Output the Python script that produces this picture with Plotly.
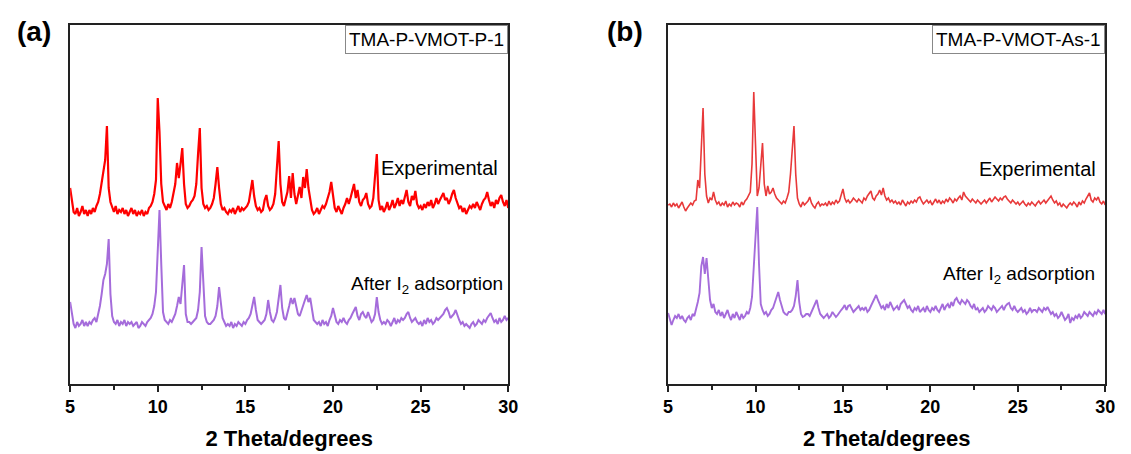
import numpy as np
import plotly.graph_objects as go

# 2-theta grid, 5.0 .. 30.0 step 0.1
two_theta = [round(5 + 0.1 * i, 1) for i in range(251)]

exp_a = [
    196,182,172,170,176,168,172,178,170,174,
    168,174,170,176,172,178,182,190,200,214,
    224,258,196,182,176,172,178,170,174,172,
    176,170,174,168,172,176,170,174,168,172,
    170,174,168,172,170,176,178,182,190,204,
    286,252,200,182,178,174,180,176,182,190,
    200,221,206,220,236,200,180,176,178,182,
    184,188,200,230,256,196,180,176,178,174,
    176,180,186,200,217,196,180,174,176,172,
    170,174,172,176,170,174,178,172,176,174,
    176,178,182,196,204,188,178,174,176,172,
    174,184,189,178,174,176,180,190,215,243,
    200,182,178,184,192,208,186,211,190,180,
    188,197,186,207,196,215,196,182,174,170,
    172,176,170,174,178,176,180,186,192,202,
    188,176,172,178,174,170,176,180,186,180,
    186,192,200,186,194,182,178,184,186,191,
    180,176,178,186,210,230,184,174,178,172,
    176,182,174,178,184,176,180,186,178,184,
    180,186,194,182,178,188,184,193,180,176,
    178,174,180,176,182,178,184,176,180,186,
    180,184,188,191,184,186,180,184,190,194,
    186,180,176,178,172,176,170,174,178,176,
    180,176,182,178,174,180,184,186,192,184,
    178,182,176,184,180,186,189,182,178,184,
    176,
]

after_a = [
    82,70,60,56,62,58,60,64,58,62,
    58,62,60,64,66,62,70,78,90,104,
    110,120,145,90,68,62,60,64,58,62,
    60,64,58,62,60,62,58,60,62,56,
    58,62,60,58,62,64,66,70,78,92,
    130,174,120,72,64,62,60,64,62,66,
    70,78,87,80,100,119,70,62,62,60,
    62,64,66,74,92,137,100,68,62,60,
    60,62,64,68,78,97,80,66,62,58,
    60,58,62,56,60,58,62,60,58,62,
    60,64,66,70,78,87,74,64,62,60,
    62,64,70,84,72,64,62,66,72,88,
    99,76,66,64,70,78,86,80,86,76,
    70,68,74,80,84,89,82,86,72,64,
    62,60,62,58,64,60,62,58,64,68,
    76,68,62,60,64,62,66,62,60,64,
    66,70,74,77,68,64,70,72,68,66,
    72,66,62,64,70,87,72,64,60,62,
    60,64,62,58,62,66,60,64,62,66,
    64,66,70,72,66,62,64,66,62,60,
    62,58,64,60,66,62,64,60,62,66,
    64,66,68,70,74,76,72,66,68,70,
    74,68,64,60,62,58,60,58,56,60,
    62,58,60,64,62,60,64,62,66,68,
    71,66,62,64,60,66,62,64,68,64,
    66,
]

exp_b = [
    179,180,177,181,178,180,176,179,182,177,
    173,176,178,181,179,183,184,204,196,230,
    276,210,188,181,186,184,192,184,180,182,
    178,181,179,183,177,180,178,182,179,181,
    180,177,182,179,183,185,188,192,220,292,
    240,188,196,220,241,200,188,198,190,192,
    196,190,186,184,182,180,183,181,186,192,
    210,240,258,210,186,180,177,182,179,181,
    183,187,181,178,176,180,182,178,180,179,
    181,178,183,179,182,180,184,181,183,189,
    195,186,182,184,181,183,186,184,182,185,
    183,181,186,184,188,190,193,186,184,188,
    190,194,189,196,188,184,186,182,184,181,
    183,180,182,179,184,181,178,182,180,183,
    181,184,182,186,187,183,180,182,184,181,
    183,179,182,185,181,184,180,183,181,185,
    182,186,184,181,185,183,186,188,184,192,
    188,186,184,182,185,183,181,184,182,180,
    182,184,181,183,186,182,184,187,185,183,
    186,184,187,188,185,183,181,184,182,180,
    182,179,181,183,180,178,181,179,182,180,
    178,181,183,180,182,184,181,183,186,188,
    184,181,183,179,181,177,180,178,176,179,
    181,179,182,180,177,182,179,183,181,185,
    188,191,184,182,186,184,187,182,180,183,
    179,
]

after_b = [
    71,66,59,64,68,66,70,65,68,64,
    62,66,68,64,70,68,74,82,91,118,
    127,110,126,100,84,76,80,72,70,74,
    68,72,66,70,74,68,64,70,66,72,
    68,64,70,66,68,72,70,76,87,120,
    150,177,120,80,74,70,72,68,70,74,
    76,82,88,92,84,78,72,70,69,72,
    72,74,78,88,104,82,70,67,68,70,
    70,68,72,76,80,84,76,70,68,66,
    68,70,66,68,72,70,67,69,72,74,
    76,79,74,78,79,76,72,74,76,78,
    74,76,74,77,72,74,78,82,86,89,
    84,80,76,78,74,80,76,82,78,74,
    76,78,74,80,82,84,80,76,78,74,
    72,76,74,78,72,74,76,72,78,74,
    72,76,74,78,74,72,76,80,74,78,
    80,76,82,78,84,86,82,80,84,82,
    80,84,82,78,76,80,74,76,72,74,
    76,72,74,78,76,74,78,76,72,74,
    76,78,74,78,80,81,76,74,78,74,
    72,74,76,72,74,70,72,76,72,74,
    74,72,76,74,72,76,74,77,74,70,
    72,68,70,66,68,72,68,64,66,70,
    61,66,64,68,66,70,66,68,72,70,
    68,72,70,68,72,70,74,72,70,74,
    70,
]

x_ticks = [5, 10, 15, 20, 25, 30]
sample_a = "TMA-P-VMOT-P-1"
sample_b = "TMA-P-VMOT-As-1"
label_exp = "Experimental"
label_after = "After I<sub>2</sub> adsorption"

RED_A = "#FF0000"
RED_B = "#E8393A"
PURPLE = "#A56CDB"
FONT = "Liberation Sans"

fig = go.Figure()
fig.add_trace(go.Scatter(x=two_theta, y=exp_a, mode="lines", line=dict(color=RED_A, width=2.2), xaxis="x", yaxis="y"))
fig.add_trace(go.Scatter(x=two_theta, y=after_a, mode="lines", line=dict(color=PURPLE, width=2), xaxis="x", yaxis="y"))
fig.add_trace(go.Scatter(x=two_theta, y=exp_b, mode="lines", line=dict(color=RED_B, width=1.6), xaxis="x2", yaxis="y2"))
fig.add_trace(go.Scatter(x=two_theta, y=after_b, mode="lines", line=dict(color=PURPLE, width=1.9), xaxis="x2", yaxis="y2"))

W, H = 1131, 454
ydom = [(H - 384) / H, (H - 25) / H]

def xaxis(dom, anchor):
    return dict(
        domain=dom, anchor=anchor, range=[5, 30], tickvals=x_ticks,
        showline=True, linecolor="#222", linewidth=1.5, mirror=True,
        ticks="outside", ticklen=6, tickwidth=1.5, tickcolor="#222",
        minor=dict(dtick=2.5, tick0=5, ticks="outside", ticklen=4, tickwidth=1.5, tickcolor="#222"),
        showgrid=False, zeroline=False,
        tickfont=dict(family=FONT, size=18, color="black", weight="bold"),
        title=dict(text="<b>2 Theta/degrees</b>", font=dict(family=FONT, size=22, color="black"), standoff=14),
    )

def yaxis(anchor):
    return dict(domain=ydom, anchor=anchor, range=[0, 359], showline=True, linecolor="#222",
                linewidth=1.5, mirror=True, ticks="", showticklabels=False, showgrid=False, zeroline=False)

fig.update_layout(
    width=W, height=H, margin=dict(l=0, r=0, t=0, b=0),
    paper_bgcolor="white", plot_bgcolor="white", showlegend=False,
    xaxis=xaxis([66 / W, 510 / W], "y"),
    yaxis=yaxis("x"),
    xaxis2=xaxis([672 / W, 1115 / W], "y2"),
    yaxis2=yaxis("x2"),
)

ann = []
for xr, yr, name in [("x", "y", sample_a), ("x2", "y2", sample_b)]:
    ann.append(dict(xref=xr + " domain", yref=yr + " domain", x=1, y=1, xanchor="right", yanchor="top",
                    text=name, showarrow=False, font=dict(family=FONT, size=19, color="black"),
                    bordercolor="#888", borderwidth=1, borderpad=3, bgcolor="white"))
ann += [
    dict(xref="x", yref="y", x=29.55, y=216, xanchor="right", yanchor="middle", text=label_exp, showarrow=False,
         font=dict(family=FONT, size=20, color="black")),
    dict(xref="x", yref="y", x=29.83, y=99, xanchor="right", yanchor="middle", text=label_after, showarrow=False,
         font=dict(family=FONT, size=19, color="black")),
    dict(xref="x2", yref="y2", x=29.6, y=215, xanchor="right", yanchor="middle", text=label_exp, showarrow=False,
         font=dict(family=FONT, size=20, color="black")),
    dict(xref="x2", yref="y2", x=29.55, y=109, xanchor="right", yanchor="middle", text=label_after, showarrow=False,
         font=dict(family=FONT, size=19, color="black")),
    dict(xref="paper", yref="paper", x=10 / W, y=1 - 32 / H, xanchor="left", yanchor="middle", text="<b>(a)</b>",
         showarrow=False, font=dict(family=FONT, size=28, color="black")),
    dict(xref="paper", yref="paper", x=608 / W, y=1 - 32 / H, xanchor="left", yanchor="middle", text="<b>(b)</b>",
         showarrow=False, font=dict(family=FONT, size=28, color="black")),
]
fig.update_layout(annotations=ann)

fig.write_html("out.html")
